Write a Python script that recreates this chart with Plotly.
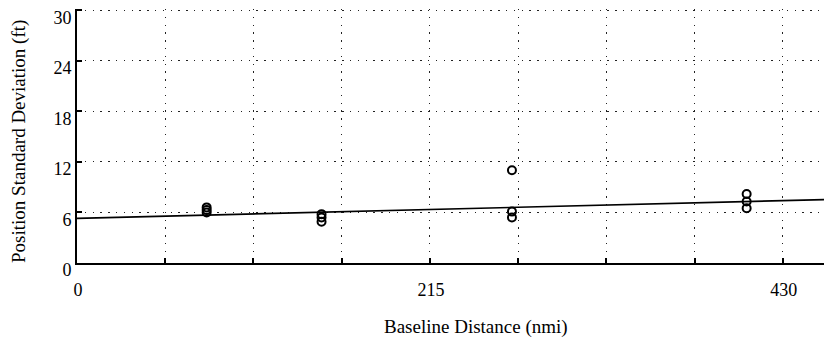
import plotly.graph_objects as go

# Data
baseline_nmi = [79, 79, 79, 149, 149, 149, 265, 265, 265, 408, 408, 408]
pos_std_ft = [6.0, 6.3, 6.6, 4.9, 5.4, 5.8, 5.4, 6.1, 11.0, 6.5, 7.3, 8.2]
fit_x = [0, 460]
fit_y = [5.3, 7.55]

x_tickvals = [0, 53.75, 107.5, 161.25, 215, 268.75, 322.5, 376.25, 430]
x_ticktext = ["0", "", "", "", "215", "", "", "", "430"]
y_tickvals = [0, 6, 12, 18, 24, 30]
y_ticktext = ["0", "6", "12", "18", "24", "30"]

FONT = "Liberation Serif, Times New Roman, serif"

fig = go.Figure()
fig.add_trace(go.Scatter(
    x=fit_x, y=fit_y, mode="lines",
    line=dict(color="black", width=1.6), showlegend=False, hoverinfo="skip",
))
fig.add_trace(go.Scatter(
    x=baseline_nmi, y=pos_std_ft, mode="markers",
    marker=dict(symbol="circle-open", size=8, color="black", line=dict(width=2, color="black")),
    showlegend=False,
))

# page body has an 8px margin, so the figure is 8px smaller and offset
fig.update_layout(
    width=824, height=338,
    margin=dict(l=69, r=0, t=1, b=83),
    paper_bgcolor="white", plot_bgcolor="white",
    font=dict(family=FONT, size=18, color="black"),
    xaxis=dict(
        range=[0, 460], tickmode="array", tickvals=x_tickvals, ticktext=x_ticktext,
        showgrid=True, gridcolor="#222", gridwidth=1.3, griddash="1.3px,6.5px",
        showline=True, linecolor="black", linewidth=1.5,
        ticks="inside", ticklen=5, tickcolor="black", tickwidth=1.5,
        ticklabelstandoff=10, ticklabelshift=1, ticklabeloverflow="allow",
        zeroline=False, automargin=False,
    ),
    yaxis=dict(
        range=[0, 30.15], tickmode="array", tickvals=y_tickvals, ticktext=y_ticktext,
        showgrid=True, gridcolor="#222", gridwidth=1.3, griddash="1.3px,6.5px",
        showline=True, linecolor="black", linewidth=2,
        ticks="inside", ticklen=5, tickcolor="black", tickwidth=1.5,
        ticklabelshift=7, ticklabeloverflow="allow",
        zeroline=False, automargin=False,
    ),
    annotations=[
        dict(text="Baseline Distance (nmi)", xref="paper", yref="paper",
             x=0.528, y=-0.25, xanchor="center", yanchor="middle", showarrow=False,
             font=dict(family=FONT, size=19)),
        dict(text="Position Standard Deviation (ft)", xref="paper", yref="paper",
             x=-0.077, y=0.48, xanchor="center", yanchor="middle", showarrow=False,
             textangle=-90, font=dict(family=FONT, size=19)),
    ],
)

fig.write_html("out.html")
